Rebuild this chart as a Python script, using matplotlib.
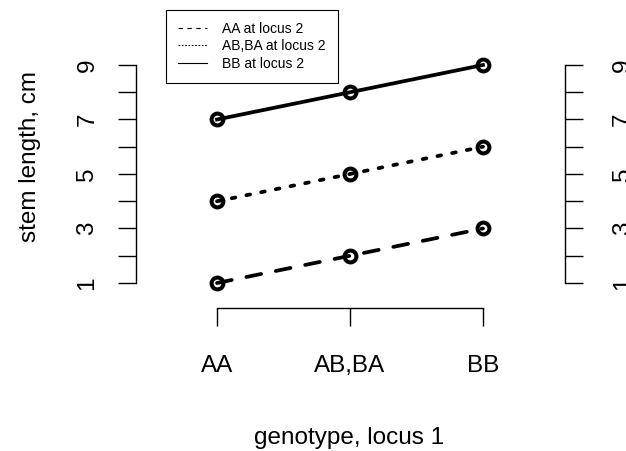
import numpy as np
import matplotlib.pyplot as plt
from matplotlib.lines import Line2D

plt.rcParams['font.family'] = ['Liberation Sans', 'DejaVu Sans']

# genotype at locus 1 along x, one line per genotype at locus 2
genotypes = ['AA', 'AB,BA', 'BB']
stem_aa = [1, 2, 3]
stem_abba = [4, 5, 6]
stem_bb = [7, 8, 9]
legend_labels = ['AA at locus 2', 'AB,BA at locus 2', 'BB at locus 2']
yticks = [1, 2, 3, 4, 5, 6, 7, 8, 9]

W, H = 626, 451
fig = plt.figure(figsize=(W / 100, H / 100), dpi=100)
ax = fig.add_axes([0, 0, 1, 1])
ax.patch.set_alpha(0)

# pixel mapping: x=1 -> 217px, x=3 -> 483px; y=1 -> 283px, y=9 -> 65px (from top)
xu = (483 - 217) / 2
yu = (283 - 65) / 8
ax.set_xlim(1 - 217 / xu, 3 + (W - 483) / xu)
ax.set_ylim(1 - (H - 283) / yu, 9 + 65 / yu)

x = np.arange(1, len(genotypes) + 1)
common = dict(color='black', lw=2.7, marker='o', ms=8.5, mew=2.9,
              mfc='none', mec='black', dash_capstyle='round')
ax.plot(x, stem_aa, dashes=(4, 4), **common)
ax.plot(x, stem_abba, dashes=(1, 3), **common)
ax.plot(x, stem_bb, **common)

# spines placed like R axes
ax.spines['top'].set_visible(False)
ax.spines['right'].set_visible(False)
ax.spines['left'].set_position(('data', 1 - (217 - 136) / xu))
ax.spines['left'].set_bounds(1, 9)
ax.spines['bottom'].set_position(('data', 1 - (168 - 143) / yu))
ax.spines['bottom'].set_bounds(1, 3)
for s in ['left', 'bottom']:
    ax.spines[s].set_linewidth(1.0)

ylabels = [str(v) if v % 2 == 1 else '' for v in yticks]
ax.set_yticks(yticks)
ax.set_yticklabels(ylabels, rotation=90, va='center')
ax.tick_params(axis='y', length=13, width=1.0, labelsize=17.5, pad=14)
ax.set_xticks(x)
ax.set_xticklabels(genotypes)
ax.tick_params(axis='x', length=13, width=1.0, labelsize=17.5, pad=21)

# axis on the right (edge of the neighbouring panel)
sec = ax.secondary_yaxis(565 / W)
sec.set_yticks(yticks)
sec.set_yticklabels(ylabels, rotation=90, va='center')
sec.tick_params(axis='y', length=13, width=1.0, labelsize=17.5, pad=21)
sec.spines['right'].set_bounds(1, 9)
sec.spines['right'].set_linewidth(1.0)

fig.text(30 / W, 1 - 157 / H, 'stem length, cm', rotation=90,
         ha='center', va='center', fontsize=17.5)
fig.text(349 / W, 1 - 438 / H, 'genotype, locus 1',
         ha='center', va='center', fontsize=17.5)

handles = [Line2D([], [], color='black', lw=0.8, dashes=(4, 4)),
           Line2D([], [], color='black', lw=0.8, dashes=(1.5, 1.5)),
           Line2D([], [], color='black', lw=0.8)]
leg = fig.legend(handles, legend_labels, loc='upper left',
                 bbox_to_anchor=(166 / W, 1 - 10 / H), fontsize=10,
                 frameon=True, fancybox=False, framealpha=1,
                 edgecolor='black', handlelength=2.1, handletextpad=1.1,
                 labelspacing=0.25, borderpad=0.85, borderaxespad=0)
leg.get_frame().set_linewidth(0.8)

fig.savefig('out.png', dpi=100)
